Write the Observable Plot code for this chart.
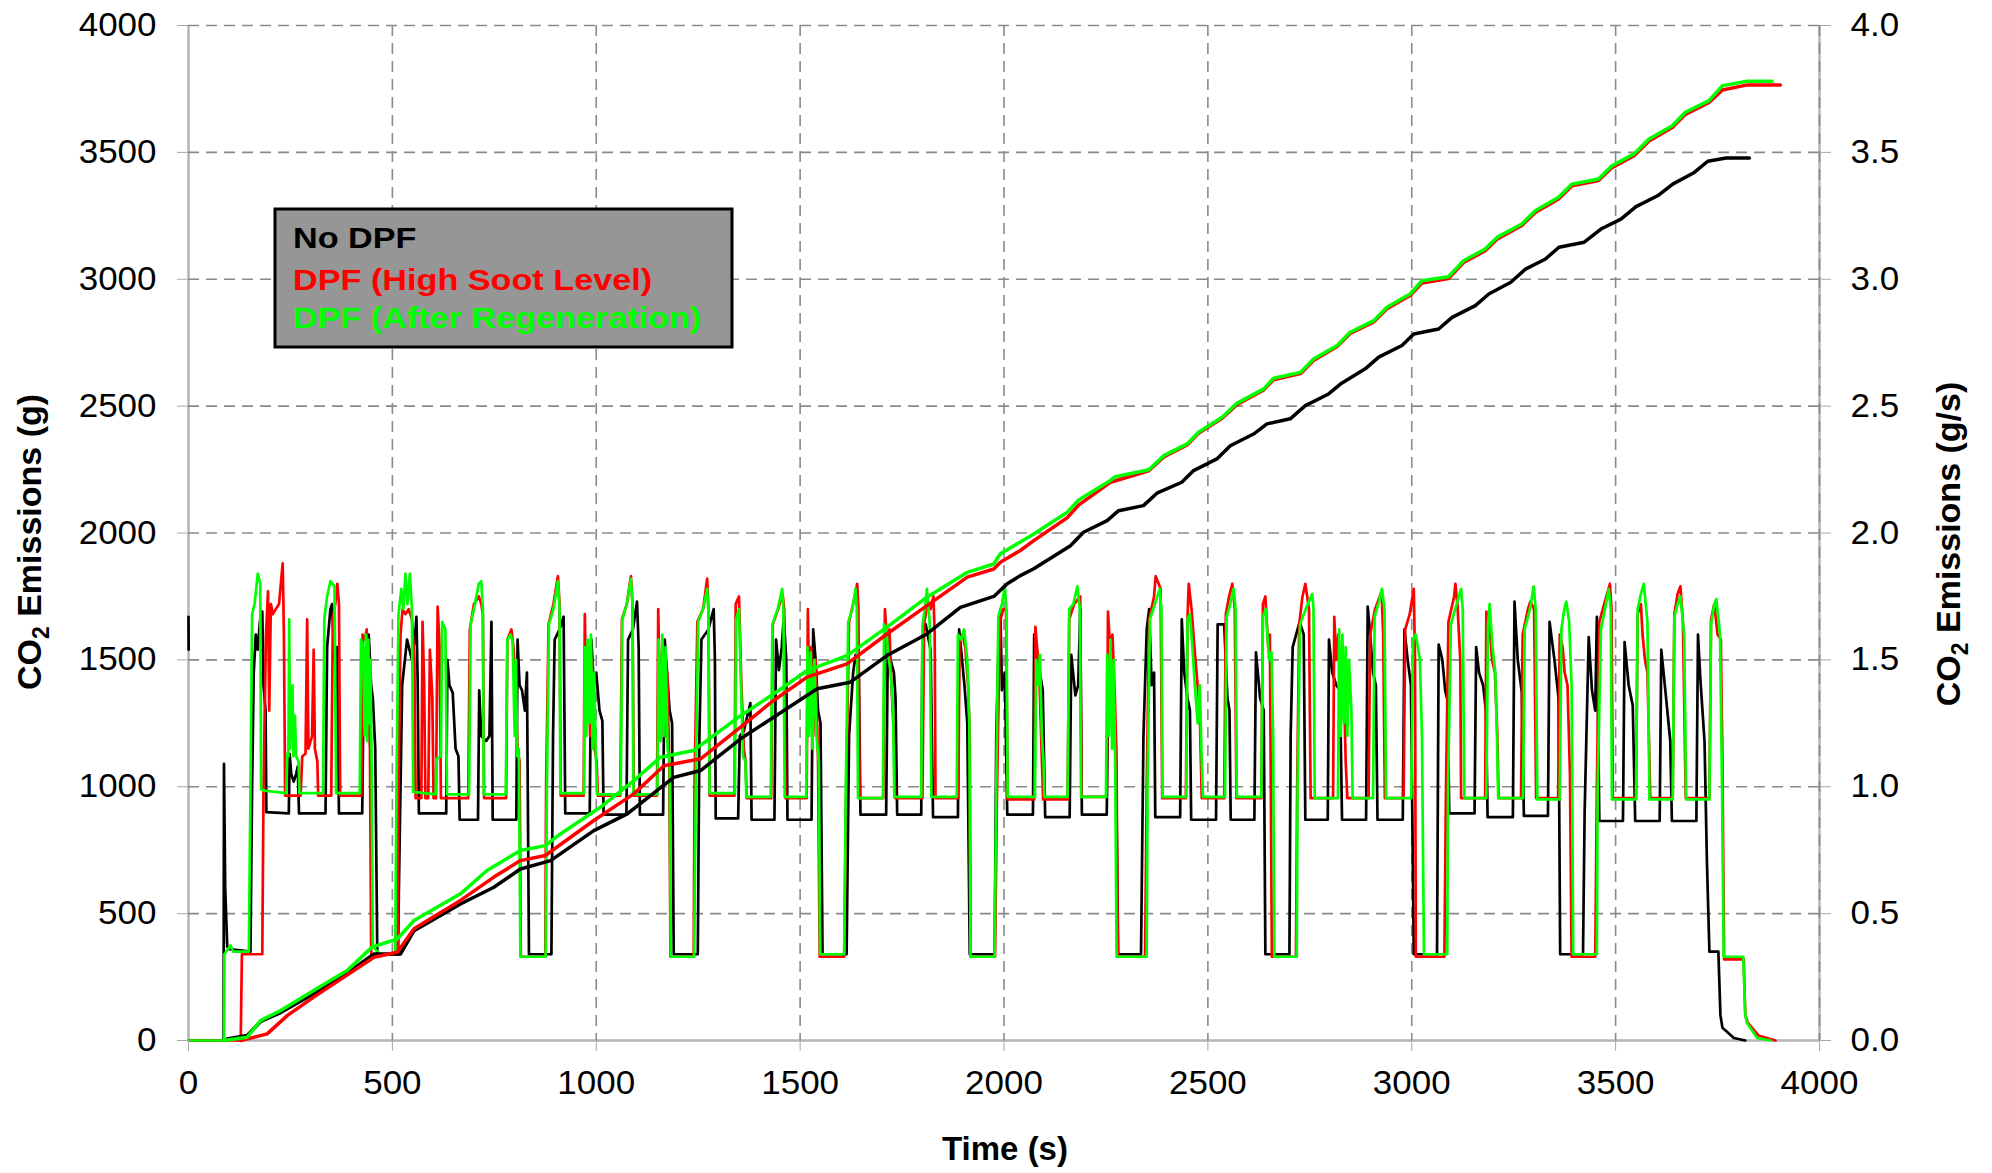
<!DOCTYPE html>
<html>
<head>
<meta charset="utf-8">
<script src="https://cdn.jsdelivr.net/npm/d3@7"></script>
<script src="https://cdn.jsdelivr.net/npm/@observablehq/plot@0.6"></script>
<style>
  html, body { margin: 0; padding: 0; background: #fff; }
  #chart svg { display: block; }
</style>
</head>
<body>
<div id="chart"></div>
<script>
// ---------- tick labels ----------
const timeTicks = [0, 500, 1000, 1500, 2000, 2500, 3000, 3500, 4000];
const massTicks = [0, 500, 1000, 1500, 2000, 2500, 3000, 3500, 4000];
const rateTickLabels = ["0.0", "0.5", "1.0", "1.5", "2.0", "2.5", "3.0", "3.5", "4.0"];

// ---------- series names / colours ----------
const seriesNames = ["No DPF", "DPF (High Soot Level)", "DPF (After Regeneration)"];
const seriesColors = ["#000000", "#ff0000", "#00ff00"];

// ---------- cumulative CO2 (g) : [time s, grams] ----------
const blackCum = [[95,6],[144,20],[177,75],[226,110],[307,184],[389,265],[455,341],[520,341],[553,433],[667,538],[749,604],[814,676],[888,709],[994,827],[1076,893],[1190,1037],[1256,1064],[1354,1189],[1435,1274],[1542,1386],[1623,1412],[1713,1517],[1811,1602],[1893,1707],[1975,1750],[2008,1800],[2040,1832],[2073,1859],[2163,1950],[2195,2003],[2253,2049],[2281,2088],[2342,2108],[2375,2157],[2436,2200],[2465,2246],[2522,2292],[2555,2344],[2612,2390],[2645,2430],[2702,2450],[2739,2502],[2796,2548],[2825,2587],[2886,2647],[2919,2693],[2976,2739],[3005,2784],[3066,2804],[3099,2850],[3156,2896],[3189,2942],[3243,2988],[3279,3040],[3328,3080],[3361,3126],[3423,3146],[3464,3198],[3513,3237],[3550,3286],[3603,3329],[3640,3375],[3693,3421],[3726,3465],[3771,3478],[3828,3478]];
const redCum = [[128,0],[193,26],[242,98],[307,171],[455,328],[512,348],[553,440],[667,552],[749,644],[814,709],[875,729],[994,867],[1092,972],[1166,1083],[1256,1110],[1354,1235],[1435,1340],[1517,1432],[1615,1484],[1713,1602],[1811,1714],[1910,1826],[1975,1858],[1991,1885],[2040,1931],[2073,1970],[2155,2060],[2183,2110],[2261,2200],[2355,2245],[2392,2300],[2449,2347],[2477,2393],[2535,2452],[2571,2506],[2637,2564],[2661,2604],[2727,2628],[2759,2680],[2817,2735],[2849,2786],[2907,2832],[2939,2884],[2996,2936],[3025,2985],[3090,3003],[3127,3066],[3180,3112],[3209,3158],[3270,3212],[3303,3263],[3360,3316],[3393,3368],[3458,3389],[3491,3440],[3545,3487],[3582,3545],[3639,3598],[3671,3650],[3729,3697],[3762,3746],[3823,3766],[3904,3766]];
const greenCum = [[87,0],[144,13],[177,79],[226,118],[307,197],[389,276],[450,368],[512,400],[553,473],[667,578],[732,670],[814,749],[875,768],[912,814],[1010,919],[1092,1024],[1157,1116],[1239,1143],[1354,1280],[1435,1366],[1517,1458],[1615,1517],[1713,1629],[1811,1747],[1910,1845],[1975,1878],[1991,1918],[2073,1996],[2155,2082],[2183,2130],[2261,2207],[2273,2222],[2355,2249],[2392,2305],[2449,2351],[2477,2397],[2535,2456],[2571,2511],[2637,2568],[2661,2610],[2727,2633],[2759,2686],[2817,2739],[2849,2791],[2907,2837],[2939,2890],[2996,2942],[3025,2994],[3090,3010],[3127,3073],[3180,3119],[3209,3165],[3270,3218],[3303,3270],[3360,3323],[3393,3375],[3458,3395],[3491,3447],[3545,3494],[3582,3553],[3639,3605],[3671,3658],[3729,3704],[3762,3763],[3823,3780],[3884,3780]];

// ---------- CO2 rate (g/s) : [time s, g/s]  (null = gap) ----------
const blackRate = [[0,1.67],[0.4,1.54],[0.8,null],[2,0],[86,0],[87,1.09],[90,0.6],[95,0.37],[100,0.36],[152,0.35],[156,1.0],[160,1.45],[165,1.60],[170,1.54],[175,1.65],[181,1.69],[184,1.40],[189,1.30],[191,0.90],[246,0.895],[248,1.13],[252,1.05],[258,1.02],[264,1.05],[268,1.08],[271,0.895],[336,0.895],[340,1.55],[348,1.70],[352,1.72],[358,1.50],[364,1.55],[369,0.895],[426,0.895],[430,1.45],[438,1.55],[442,1.60],[448,1.40],[452,1.35],[458,1.15],[463,0.34],[514,0.34],[516,0.6],[524,1.40],[536,1.58],[548,1.50],[556,1.60],[559,1.67],[562,1.42],[565,0.895],[632,0.895],[635,1.50],[640,1.40],[648,1.37],[655,1.15],[662,1.12],[665,0.87],[710,0.87],[713,1.38],[718,1.20],[730,1.18],[738,1.20],[743,1.65],[746,0.87],[804,0.87],[807,1.58],[812,1.40],[818,1.38],[825,1.30],[830,1.45],[835,0.34],[890,0.34],[894,1.2],[898,1.58],[910,1.62],[920,1.67],[924,0.895],[984,0.895],[988,1.58],[994,1.40],[1000,1.45],[1008,1.30],[1015,1.26],[1018,0.89],[1074,0.89],[1078,1.58],[1090,1.62],[1100,1.73],[1104,1.55],[1107,0.89],[1164,0.89],[1168,1.58],[1174,1.44],[1180,1.30],[1186,1.25],[1190,0.34],[1249,0.34],[1253,1.2],[1258,1.58],[1275,1.62],[1288,1.70],[1291,1.50],[1293,0.875],[1348,0.875],[1352,1.20],[1362,1.22],[1378,1.33],[1381,0.87],[1437,0.87],[1441,1.58],[1448,1.46],[1455,1.55],[1460,1.67],[1466,1.50],[1469,0.87],[1528,0.87],[1532,1.62],[1538,1.50],[1544,1.30],[1550,1.25],[1555,0.34],[1614,0.34],[1620,1.2],[1630,1.45],[1636,1.52],[1644,1.45],[1648,0.89],[1711,0.89],[1715,1.54],[1722,1.50],[1730,1.45],[1734,1.35],[1738,0.89],[1797,0.89],[1800,1.60],[1808,1.64],[1815,1.58],[1820,1.54],[1826,0.88],[1887,0.88],[1890,1.62],[1896,1.52],[1903,1.40],[1910,1.25],[1916,0.34],[1977,0.34],[1981,1.2],[1988,1.65],[1991,1.70],[1995,1.38],[2002,1.45],[2008,0.89],[2071,0.89],[2074,1.60],[2080,1.52],[2088,1.45],[2095,1.38],[2101,0.88],[2161,0.88],[2165,1.52],[2175,1.36],[2182,1.40],[2187,1.70],[2191,0.89],[2252,0.89],[2256,1.47],[2262,1.55],[2268,1.30],[2274,1.20],[2280,0.34],[2336,0.34],[2342,1.2],[2350,1.62],[2356,1.70],[2362,1.40],[2368,1.45],[2371,0.88],[2432,0.88],[2436,1.66],[2442,1.45],[2450,1.35],[2456,1.30],[2459,0.87],[2520,0.87],[2524,1.64],[2540,1.64],[2548,1.35],[2553,1.30],[2556,0.87],[2614,0.87],[2618,1.53],[2628,1.35],[2637,1.30],[2641,0.34],[2700,0.34],[2703,1.2],[2708,1.55],[2725,1.65],[2735,1.60],[2739,0.87],[2794,0.87],[2797,1.58],[2805,1.45],[2815,1.40],[2824,1.38],[2829,0.87],[2888,0.87],[2892,1.71],[2898,1.60],[2905,1.45],[2912,1.40],[2916,0.87],[2978,0.87],[2982,1.62],[2990,1.50],[2998,1.40],[3005,0.34],[3062,0.34],[3066,1.56],[3075,1.50],[3082,1.38],[3088,1.34],[3092,0.895],[3154,0.895],[3158,1.55],[3165,1.45],[3175,1.40],[3182,1.30],[3186,0.88],[3248,0.88],[3252,1.73],[3260,1.50],[3270,1.37],[3275,0.885],[3334,0.885],[3338,1.65],[3350,1.50],[3360,1.35],[3364,0.34],[3420,0.34],[3424,0.90],[3434,1.59],[3442,1.38],[3450,1.30],[3454,1.67],[3460,0.865],[3518,0.865],[3522,1.57],[3532,1.40],[3542,1.32],[3548,0.865],[3608,0.865],[3612,1.54],[3625,1.33],[3634,1.18],[3638,0.865],[3698,0.865],[3702,1.60],[3708,1.42],[3718,1.18],[3724,0.70],[3730,0.35],[3752,0.35],[3757,0.10],[3762,0.05],[3790,0.01],[3818,0.0]];

const redRate = [[0,0],[128,0],[131,0.34],[181,0.34],[184,1.0],[190,1.60],[195,1.77],[198,1.30],[202,1.72],[207,1.68],[214,1.70],[222,1.72],[231,1.88],[234,1.60],[237,0.965],[275,0.965],[279,1.12],[287,1.13],[291,1.66],[294,1.15],[303,1.20],[307,1.54],[310,1.15],[316,1.10],[318,0.965],[350,0.965],[354,1.66],[360,1.72],[365,1.80],[369,1.72],[372,0.965],[424,0.965],[427,1.60],[433,1.58],[437,1.62],[441,1.30],[445,1.15],[448,0.34],[513,0.34],[515,1.0],[520,1.60],[525,1.70],[532,1.68],[540,1.70],[548,1.66],[554,1.50],[557,0.955],[571,0.955],[574,1.65],[578,1.40],[581,0.955],[588,0.955],[592,1.54],[598,1.35],[601,0.955],[607,0.955],[611,1.71],[616,1.55],[619,0.955],[686,0.955],[690,1.62],[700,1.72],[712,1.75],[718,1.72],[722,1.68],[725,0.955],[779,0.955],[782,1.58],[792,1.62],[797,1.55],[802,1.40],[807,1.15],[812,1.10],[815,0.33],[875,0.33],[877,1.0],[883,1.64],[895,1.72],[906,1.83],[910,1.72],[913,0.965],[969,0.965],[972,1.68],[976,1.30],[980,1.55],[985,1.20],[990,1.50],[996,1.15],[1001,1.10],[1004,0.965],[1059,0.965],[1063,1.66],[1075,1.72],[1085,1.83],[1089,1.72],[1092,0.965],[1149,0.965],[1152,1.70],[1157,1.25],[1162,1.55],[1168,1.20],[1174,1.45],[1179,1.10],[1182,0.33],[1239,0.33],[1241,1.0],[1248,1.65],[1262,1.70],[1272,1.82],[1275,1.70],[1278,0.965],[1339,0.965],[1342,1.72],[1350,1.75],[1356,1.40],[1362,1.15],[1366,1.10],[1369,0.955],[1429,0.955],[1433,1.64],[1446,1.70],[1457,1.76],[1461,1.70],[1464,0.955],[1516,0.955],[1519,1.70],[1523,1.30],[1527,1.55],[1532,1.20],[1538,1.50],[1544,1.10],[1548,0.33],[1608,0.33],[1613,1.0],[1620,1.65],[1630,1.72],[1640,1.80],[1643,1.70],[1646,0.955],[1704,0.955],[1708,1.70],[1714,1.55],[1719,1.62],[1724,1.40],[1730,1.20],[1733,0.955],[1800,0.955],[1804,1.64],[1812,1.72],[1820,1.70],[1827,1.75],[1830,1.60],[1832,0.955],[1888,0.955],[1891,1.58],[1898,1.60],[1905,1.55],[1912,1.40],[1916,1.20],[1918,0.33],[1978,0.33],[1983,1.0],[1990,1.65],[1998,1.70],[2005,1.70],[2009,0.95],[2074,0.95],[2077,1.63],[2081,1.55],[2086,1.47],[2092,1.15],[2096,0.95],[2156,0.95],[2160,1.66],[2172,1.72],[2187,1.75],[2190,0.96],[2252,0.96],[2255,1.69],[2260,1.55],[2266,1.60],[2272,1.35],[2276,1.10],[2279,0.33],[2346,0.33],[2350,1.0],[2356,1.66],[2368,1.75],[2372,1.83],[2384,1.78],[2388,0.955],[2446,0.955],[2450,1.66],[2453,1.80],[2460,1.70],[2467,1.55],[2480,1.30],[2485,0.955],[2540,0.955],[2544,1.68],[2552,1.75],[2560,1.80],[2566,1.70],[2570,0.955],[2631,0.955],[2635,1.72],[2641,1.75],[2648,1.55],[2652,1.60],[2657,0.33],[2716,0.33],[2719,1.0],[2724,1.64],[2732,1.75],[2739,1.80],[2748,1.70],[2752,0.955],[2807,0.955],[2810,1.67],[2815,1.50],[2820,1.60],[2826,1.25],[2832,1.50],[2838,1.10],[2842,0.955],[2894,0.955],[2898,1.60],[2910,1.70],[2926,1.77],[2930,1.60],[2934,0.955],[2980,0.955],[2984,1.62],[2995,1.68],[3005,1.78],[3008,1.50],[3010,0.33],[3080,0.33],[3084,1.0],[3090,1.65],[3104,1.75],[3107,1.80],[3112,1.72],[3119,1.50],[3121,0.955],[3180,0.955],[3183,1.69],[3190,1.65],[3197,1.50],[3204,1.45],[3210,1.20],[3213,0.955],[3268,0.955],[3272,1.60],[3285,1.70],[3291,1.73],[3300,1.70],[3305,0.955],[3359,0.955],[3363,1.60],[3370,1.55],[3375,1.45],[3382,1.40],[3388,1.05],[3392,0.33],[3450,0.33],[3454,1.0],[3460,1.65],[3472,1.72],[3486,1.80],[3490,1.70],[3493,0.955],[3550,0.955],[3554,1.68],[3562,1.72],[3566,1.60],[3572,1.50],[3578,1.45],[3585,0.955],[3640,0.955],[3644,1.68],[3652,1.76],[3659,1.79],[3665,1.65],[3672,0.955],[3730,0.955],[3734,1.66],[3742,1.72],[3750,1.60],[3758,1.58],[3762,1.1],[3766,0.32],[3814,0.32],[3818,0.10],[3824,0.07],[3850,0.02],[3892,0.0]];

const greenRate = [[0,0],[87,0],[88,0.34],[103,0.375],[110,0.35],[148,0.35],[152,1.0],[156,1.68],[162,1.72],[170,1.84],[176,1.80],[178,0.99],[185,0.985],[240,0.975],[242,1.13],[245,1.12],[247,1.66],[249,1.15],[255,1.40],[257,1.12],[261,1.28],[264,1.12],[270,1.10],[272,0.975],[330,0.975],[333,1.66],[340,1.75],[348,1.81],[358,1.79],[362,0.975],[420,0.975],[423,1.58],[428,1.55],[432,1.20],[435,1.60],[438,1.18],[441,1.58],[444,1.25],[446,1.50],[449,1.10],[452,0.37],[458,0.36],[470,0.34],[507,0.34],[510,1.0],[515,1.68],[522,1.78],[527,1.70],[532,1.84],[537,1.72],[543,1.84],[548,1.70],[551,0.98],[606,0.97],[608,1.11],[619,1.12],[622,1.65],[630,1.62],[634,0.97],[688,0.97],[692,1.64],[700,1.70],[712,1.80],[718,1.81],[722,1.70],[724,0.97],[778,0.97],[782,1.58],[790,1.60],[795,1.57],[800,1.20],[803,1.50],[806,1.12],[810,1.15],[814,0.33],[876,0.33],[879,1.0],[884,1.64],[895,1.70],[906,1.81],[910,1.70],[912,0.975],[970,0.975],[972,1.55],[976,1.20],[979,1.58],[983,1.25],[987,1.60],[991,1.15],[995,1.45],[999,1.12],[1002,0.97],[1060,0.97],[1064,1.66],[1075,1.72],[1085,1.82],[1089,1.72],[1091,0.97],[1150,0.97],[1153,1.58],[1158,1.18],[1162,1.60],[1166,1.20],[1170,1.55],[1175,1.15],[1180,1.10],[1183,0.33],[1240,0.33],[1244,1.0],[1250,1.65],[1262,1.70],[1272,1.78],[1275,1.70],[1278,0.975],[1340,0.975],[1343,1.66],[1350,1.70],[1355,1.40],[1360,1.12],[1366,1.10],[1368,0.96],[1428,0.96],[1432,1.64],[1445,1.70],[1456,1.78],[1459,1.70],[1462,0.96],[1515,0.96],[1518,1.55],[1522,1.20],[1526,1.53],[1530,1.15],[1535,1.50],[1540,1.20],[1546,1.10],[1549,0.34],[1608,0.34],[1612,1.0],[1618,1.65],[1628,1.70],[1636,1.78],[1639,1.70],[1642,0.955],[1703,0.955],[1706,1.64],[1711,1.63],[1716,1.52],[1722,1.45],[1728,1.30],[1731,0.96],[1797,0.96],[1800,1.64],[1806,1.70],[1811,1.78],[1818,1.64],[1822,0.96],[1884,0.96],[1887,1.60],[1895,1.58],[1902,1.62],[1910,1.50],[1915,1.25],[1918,0.33],[1977,0.33],[1981,1.0],[1986,1.67],[1995,1.72],[2002,1.79],[2006,1.70],[2009,0.96],[2076,0.96],[2079,1.50],[2084,1.40],[2088,1.52],[2093,1.20],[2097,1.10],[2099,0.96],[2156,0.96],[2160,1.70],[2170,1.72],[2180,1.79],[2186,1.70],[2189,0.96],[2250,0.96],[2253,1.52],[2257,1.20],[2261,1.58],[2265,1.15],[2269,1.50],[2273,1.05],[2276,0.33],[2350,0.33],[2352,1.0],[2358,1.66],[2370,1.72],[2382,1.78],[2386,1.70],[2389,0.96],[2447,0.96],[2450,1.66],[2456,1.68],[2462,1.55],[2468,1.40],[2475,1.25],[2480,1.40],[2485,1.10],[2488,0.96],[2542,0.96],[2546,1.67],[2555,1.72],[2563,1.78],[2568,1.70],[2571,0.96],[2631,0.96],[2635,1.67],[2642,1.70],[2650,1.50],[2656,1.53],[2660,1.20],[2663,0.33],[2718,0.33],[2720,1.0],[2726,1.64],[2740,1.70],[2756,1.76],[2759,1.70],[2762,0.955],[2819,0.955],[2822,1.62],[2826,1.20],[2830,1.60],[2834,1.25],[2838,1.55],[2842,1.20],[2846,1.50],[2852,1.30],[2855,0.955],[2905,0.955],[2909,1.67],[2918,1.72],[2927,1.78],[2933,1.70],[2937,0.955],[2999,0.955],[3003,1.58],[3010,1.60],[3015,1.55],[3020,1.50],[3025,1.20],[3030,0.34],[3087,0.34],[3089,1.0],[3096,1.64],[3110,1.72],[3121,1.78],[3125,1.70],[3129,0.955],[3183,0.955],[3187,1.64],[3191,1.72],[3198,1.55],[3205,1.45],[3209,1.20],[3212,0.955],[3273,0.955],[3277,1.62],[3290,1.70],[3299,1.79],[3304,1.70],[3308,0.95],[3363,0.95],[3367,1.62],[3374,1.70],[3379,1.73],[3386,1.65],[3392,1.40],[3396,0.34],[3454,0.34],[3456,1.0],[3464,1.62],[3474,1.70],[3483,1.78],[3488,1.70],[3491,0.95],[3550,0.95],[3554,1.70],[3562,1.76],[3569,1.80],[3578,1.65],[3583,0.95],[3640,0.95],[3644,1.67],[3652,1.72],[3659,1.75],[3668,1.60],[3673,0.95],[3730,0.95],[3734,1.64],[3742,1.72],[3747,1.74],[3756,1.60],[3761,1.0],[3765,0.33],[3813,0.33],[3818,0.10],[3822,0.07],[3847,0.01],[3880,0.0]];

// ---------- build tables ----------
const toCum = (arr) => arr.map(([t, g]) => ({t, g}));
const toRate = (arr) => arr.map(([t, r]) => ({t, r: r == null ? NaN : r}));
// the g/s series share the vertical extent: 0–4 g/s on the right axis is 0–4000 g on the left
const rateToLeft = (d) => d.r * 1000;

const gridStyle = {stroke: "#8a8a8a", strokeOpacity: 1, strokeWidth: 1.6, strokeDasharray: "11,7"};
const axisLineStyle = {stroke: "#b5b5b5", strokeWidth: 2.5};
const fmtInt = (d) => String(d);
const rateWidth = 2.7;
const cumWidth = 3.5;

const chart = Plot.plot({
  width: 1992,
  height: 1173,
  marginLeft: 188,
  marginRight: 173,
  marginTop: 25,
  marginBottom: 133,
  style: {fontFamily: "'Liberation Sans', Arial, sans-serif", fontSize: "33px", background: "#ffffff", color: "#000"},
  x: {domain: [0, 4000]},
  y: {domain: [0, 4000]},
  marks: [
    Plot.ruleX([0], axisLineStyle),
    Plot.ruleY([0], axisLineStyle),
    Plot.ruleX([4000], axisLineStyle),
    Plot.gridX(timeTicks.filter((d) => d > 0), gridStyle),
    Plot.gridY(massTicks.filter((d) => d > 0), gridStyle),
    Plot.line(toRate(blackRate), {x: "t", y: rateToLeft, stroke: seriesColors[0], strokeWidth: rateWidth}),
    Plot.line(toRate(redRate), {x: "t", y: rateToLeft, stroke: seriesColors[1], strokeWidth: rateWidth}),
    Plot.line(toRate(greenRate), {x: "t", y: rateToLeft, stroke: seriesColors[2], strokeWidth: rateWidth}),
    Plot.line(toCum(blackCum), {x: "t", y: "g", stroke: seriesColors[0], strokeWidth: cumWidth}),
    Plot.line(toCum(redCum), {x: "t", y: "g", stroke: seriesColors[1], strokeWidth: cumWidth}),
    Plot.line(toCum(greenCum), {x: "t", y: "g", stroke: seriesColors[2], strokeWidth: cumWidth}),
    Plot.axisX(timeTicks, {anchor: "bottom", tickSize: 11, tickPadding: 19, label: null, tickFormat: fmtInt, stroke: "#a8a8a8", fill: "#000", fontSize: 33}),
    Plot.axisY(massTicks, {anchor: "left", tickSize: 11, tickPadding: 21, label: null, tickFormat: fmtInt, stroke: "#a8a8a8", fill: "#000", fontSize: 33}),
    Plot.axisY(massTicks, {anchor: "right", tickSize: 11, tickPadding: 20, label: null, tickFormat: (d) => rateTickLabels[massTicks.indexOf(d)], stroke: "#a8a8a8", fill: "#000", fontSize: 33})
  ]
});

document.getElementById("chart").append(chart);

const svg = d3.select(chart);

// slightly wider glyphs, as in the reference
svg.selectAll('g[aria-label$="tick label"] text').each(function () {
  const w = this.getComputedTextLength();
  this.setAttribute("textLength", (w * 1.06).toFixed(1));
  this.setAttribute("lengthAdjust", "spacingAndGlyphs");
});

// ---------- axis titles ----------
const titleFont = "'Liberation Sans', Arial, sans-serif";
function co2Title(x, y, unit) {
  const t = svg.append("text")
    .attr("transform", `translate(${x},${y}) rotate(-90)`)
    .attr("text-anchor", "middle")
    .attr("font-family", titleFont)
    .attr("font-weight", "bold")
    .attr("font-size", 34)
    .attr("fill", "#000");
  t.append("tspan").text("CO");
  t.append("tspan").attr("font-size", 23).attr("dy", 8).text("2");
  t.append("tspan").attr("dy", -8).text(" Emissions " + unit);
}
co2Title(41, 542, "(g)");
co2Title(1960, 544, "(g/s)");

svg.append("text")
  .attr("x", 1005).attr("y", 1160)
  .attr("text-anchor", "middle")
  .attr("font-family", titleFont)
  .attr("font-weight", "bold")
  .attr("font-size", 33)
  .attr("fill", "#000")
  .text("Time (s)");

// ---------- legend ----------
const lg = svg.append("g").attr("text-anchor", "start");
lg.append("rect")
  .attr("x", 275).attr("y", 209).attr("width", 457).attr("height", 138)
  .attr("fill", "#969696").attr("stroke", "#000").attr("stroke-width", 3);
const legendBaselines = [248, 290, 328];
seriesNames.forEach((name, i) => {
  const t = lg.append("text")
    .attr("x", 293).attr("y", legendBaselines[i])
    .attr("text-anchor", "start")
    .attr("font-family", titleFont)
    .attr("font-weight", "bold")
    .attr("font-size", 30)
    .attr("fill", seriesColors[i])
    .text(name);
  const w = t.node().getComputedTextLength();
  t.attr("textLength", (w * 1.14).toFixed(1)).attr("lengthAdjust", "spacingAndGlyphs");
});
</script>
</body>
</html>
